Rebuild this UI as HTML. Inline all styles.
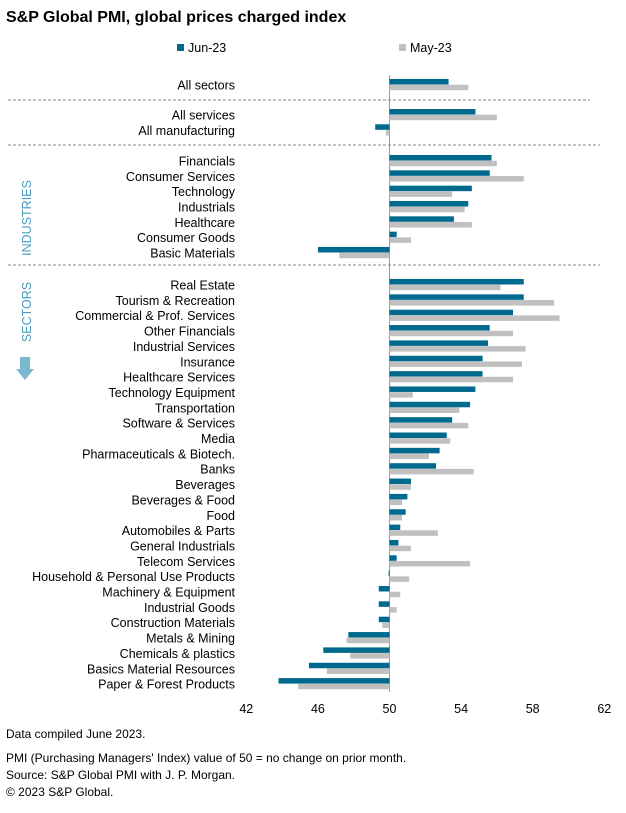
<!DOCTYPE html>
<html><head><meta charset="utf-8"><style>
body{margin:0;background:#fff;font-family:"Liberation Sans",sans-serif;}
svg text{font-family:"Liberation Sans",sans-serif;}
</style></head><body>
<svg id="c" width="626" height="808" xmlns="http://www.w3.org/2000/svg">
<text x="6" y="22" font-size="16" font-weight="bold" fill="#000">S&amp;P Global PMI, global prices charged index</text>
<rect x="177" y="44" width="7" height="7" fill="#006a8e"/>
<text x="188" y="52" font-size="12.5">Jun-23</text>
<rect x="399" y="44" width="7" height="7" fill="#c0c0c0"/>
<text x="410" y="52" font-size="12.5">May-23</text>
<g id="lines"></g>
<g id="bars"></g>
<g id="labels"></g>
<text transform="translate(31,218) rotate(-90)" text-anchor="middle" font-size="12.5" fill="#4a9bbd">INDUSTRIES</text>
<text transform="translate(31,312) rotate(-90)" text-anchor="middle" font-size="12.5" fill="#4a9bbd">SECTORS</text>
<path d="M20,357 h10 v12 h4 l-9,11 l-9,-11 h4 z" fill="#7ab8d0"/>
<text x="6" y="738" font-size="12">Data compiled June 2023.</text>
<text x="6" y="762" font-size="12">PMI (Purchasing Managers' Index) value of 50 = no change on prior month.</text>
<text x="6" y="779" font-size="12">Source: S&amp;P Global PMI with J. P. Morgan.</text>
<text x="6" y="796" font-size="12">© 2023 S&amp;P Global.</text>
</svg>
<script>
const categories=["All sectors","All services","All manufacturing","Financials","Consumer Services","Technology","Industrials","Healthcare","Consumer Goods","Basic Materials","Real Estate","Tourism & Recreation","Commercial & Prof. Services","Other Financials","Industrial Services","Insurance","Healthcare Services","Technology Equipment","Transportation","Software & Services","Media","Pharmaceuticals & Biotech.","Banks","Beverages","Beverages & Food","Food","Automobiles & Parts","General Industrials","Telecom Services","Household & Personal Use Products","Machinery & Equipment","Industrial Goods","Construction Materials","Metals & Mining","Chemicals & plastics","Basics Material Resources","Paper & Forest Products"];
const jun23=[53.3,54.8,49.2,55.7,55.6,54.6,54.4,53.6,50.4,46.0,57.5,57.5,56.9,55.6,55.5,55.2,55.2,54.8,54.5,53.5,53.2,52.8,52.6,51.2,51.0,50.9,50.6,50.5,50.4,49.95,49.4,49.4,49.4,47.7,46.3,45.5,43.8];
const may23=[54.4,56.0,49.8,56.0,57.5,53.5,54.2,54.6,51.2,47.2,56.2,59.2,59.5,56.9,57.6,57.4,56.9,51.3,53.9,54.4,53.4,52.2,54.7,51.2,50.7,50.7,52.7,51.2,54.5,51.1,50.6,50.4,49.6,47.6,47.8,46.5,44.9];
const ticks=[42,46,50,54,58,62];
const NS="http://www.w3.org/2000/svg";
const svg=document.getElementById('c');
const x=v=>389.5+(v-50)*17.9;
function rowY(i){
  if(i===0) return 85;
  if(i<=2) return 115+(i-1)*15.3;
  if(i<=9) return 161+(i-3)*15.33;
  return 285+(i-10)*15.35;
}
function mk(tag,attrs,parent){const e=document.createElementNS(NS,tag);for(const k in attrs)e.setAttribute(k,attrs[k]);(parent||svg).appendChild(e);return e;}
const gl=document.getElementById('lines'),gb=document.getElementById('bars'),gt=document.getElementById('labels');
[[100,590],[145,600],[265,600]].forEach(([y,x2],k)=>{
  const l=mk('line',{x1:8,x2:x2,y1:y,y2:y,stroke:'#888','stroke-width':1,'stroke-dasharray':'3,2'},gl);
  
  
});
const ax=mk('line',{x1:x(50),x2:x(50),y1:75,y2:692,stroke:'#999','stroke-width':1},gl);


categories.forEach((c,i)=>{
  const cy=rowY(i);
  const t=mk('text',{x:235,y:cy+4.5,'text-anchor':'end','font-size':'12.5',fill:'#000'},gt);
  t.textContent=c;
  
  
  const j=jun23[i],m=may23[i];
  const b1=mk('rect',{x:Math.min(x(j),x(50)),y:cy-6,width:Math.max(Math.abs(x(j)-x(50)),0.6),height:5.5,fill:'#006a8e'},gb);
  
  
  const b2=mk('rect',{x:Math.min(x(m),x(50)),y:cy-0.3,width:Math.max(Math.abs(x(m)-x(50)),0.6),height:5.5,fill:'#c0c0c0'},gb);
  
  
});
ticks.forEach(v=>{
  const t=mk('text',{x:x(v),y:713,'text-anchor':'middle','font-size':'12.5',fill:'#000'});
  t.textContent=v;
  
  
});
</script>
</body></html>
